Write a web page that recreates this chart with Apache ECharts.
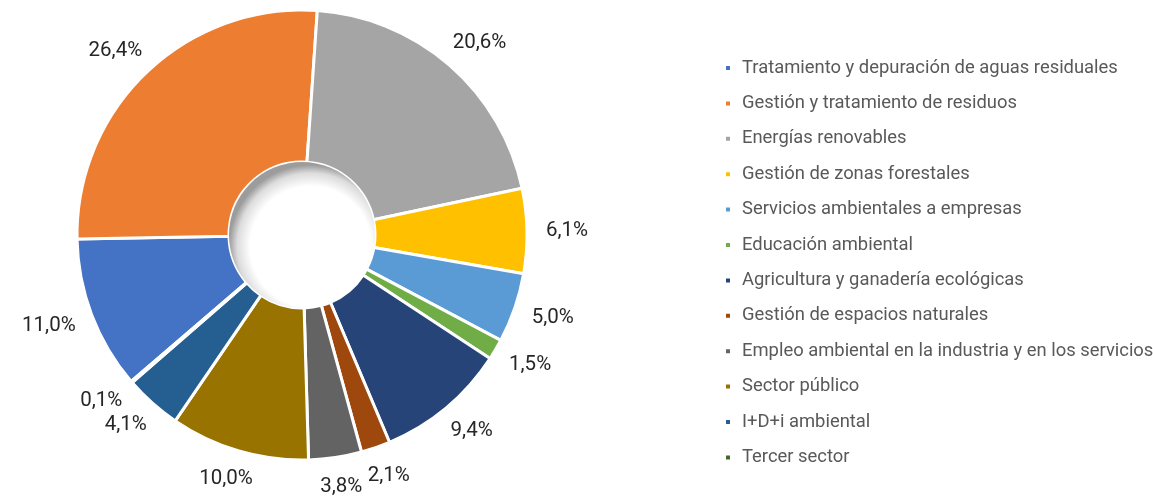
<!DOCTYPE html>
<html>
<head>
    <meta charset="utf-8">
    <title></title>
    <style type="text/css">
        html,
        body {
            height: 100%;
            margin: 0;
            padding: 0;
            background: #fff;
        }

        #main {
            width: 1153px;
            height: 496px;
        }
    </style>
</head>

<body>
    <div id="main"></div>
    <script src="https://cdn.jsdelivr.net/npm/echarts@6/dist/echarts.min.js"></script>
    <script type="text/javascript">
        // categories in legend order (clockwise around the ring)
        var categories = [
            'Tratamiento y depuración de aguas residuales',
            'Gestión y tratamiento de residuos',
            'Energías renovables',
            'Gestión de zonas forestales',
            'Servicios ambientales a empresas',
            'Educación ambiental',
            'Agricultura y ganadería ecológicas',
            'Gestión de espacios naturales',
            'Empleo ambiental en la industria y en los servicios',
            'Sector público',
            'I+D+i ambiental',
            'Tercer sector'
        ];
        var shares = [11.0, 26.4, 20.6, 6.1, 5.0, 1.5, 9.4, 2.1, 3.8, 10.0, 4.1, 0.1];
        var colors = ['#4472C4', '#ED7D31', '#A5A5A5', '#FFC000', '#5B9BD5', '#70AD47',
            '#264478', '#9E480E', '#636363', '#997300', '#255E91', '#43682B'];

        var cx = 302, cy = 235;
        var startAngle = 220.6;
        var labelR = 244;

        var total = shares.reduce(function (a, b) { return a + b; }, 0);
        // mid angle of each slice (degrees, echarts convention)
        var midAngles = [];
        var acc = 0;
        for (var i = 0; i < shares.length; i++) {
            midAngles.push(startAngle - (acc + shares[i] / 2) / total * 360);
            acc += shares[i];
        }

        var myChart;
        window.onload = function () {
            myChart = echarts.init(document.getElementById('main'));
            myChart.setOption({
                animation: false,
                color: colors,
                textStyle: {
                    fontFamily: 'Roboto'
                },
                legend: {
                    orient: 'vertical',
                    left: 719,
                    top: 53,
                    icon: 'rect',
                    itemWidth: 6,
                    itemHeight: 6,
                    itemGap: 15.4,
                    data: categories,
                    textStyle: {
                        fontSize: 18.4,
                        lineHeight: 20,
                        padding: [0, 0, 0, 6],
                        color: '#595959',
                        fontFamily: 'Roboto'
                    }
                },
                series: [{
                    type: 'pie',
                    center: [cx, cy],
                    radius: [73, 225],
                    startAngle: startAngle,
                    clockwise: true,
                    avoidLabelOverlap: false,
                    itemStyle: {
                        borderColor: '#fff',
                        borderWidth: 3
                    },
                    label: {
                        show: true,
                        position: 'outside',
                        fontSize: 20.5,
                        color: '#262626',
                        fontFamily: 'Roboto',
                        formatter: function (p) {
                            return p.value.toFixed(1).replace('.', ',') + '%';
                        }
                    },
                    labelLine: { show: false },
                    labelLayout: function (params) {
                        var a = midAngles[params.dataIndex] * Math.PI / 180;
                        var dx = Math.cos(a), dy = -Math.sin(a);
                        var w = params.labelRect.width, h = params.labelRect.height;
                        return {
                            x: cx + dx * labelR + dx * w / 2,
                            y: cy + dy * labelR + dy * h / 2,
                            align: 'center',
                            verticalAlign: 'middle'
                        };
                    },
                    emphasis: { disabled: true },
                    data: categories.map(function (c, i) {
                        return { name: c, value: shares[i] };
                    })
                }, {
                    // recessed look of the hole
                    type: 'pie',
                    center: [cx, cy],
                    radius: [0, 73],
                    silent: true,
                    label: { show: false },
                    labelLine: { show: false },
                    emphasis: { disabled: true },
                    itemStyle: {
                        color: new echarts.graphic.RadialGradient(0.56, 0.58, 0.56, [
                            { offset: 0, color: '#ffffff' },
                            { offset: 0.74, color: '#ffffff' },
                            { offset: 0.9, color: '#dcdcdc' },
                            { offset: 1, color: '#9c9c9c' }
                        ])
                    },
                    data: [{ name: '', value: 1 }]
                }]
            });
        };
    </script>
</body>

</html>
